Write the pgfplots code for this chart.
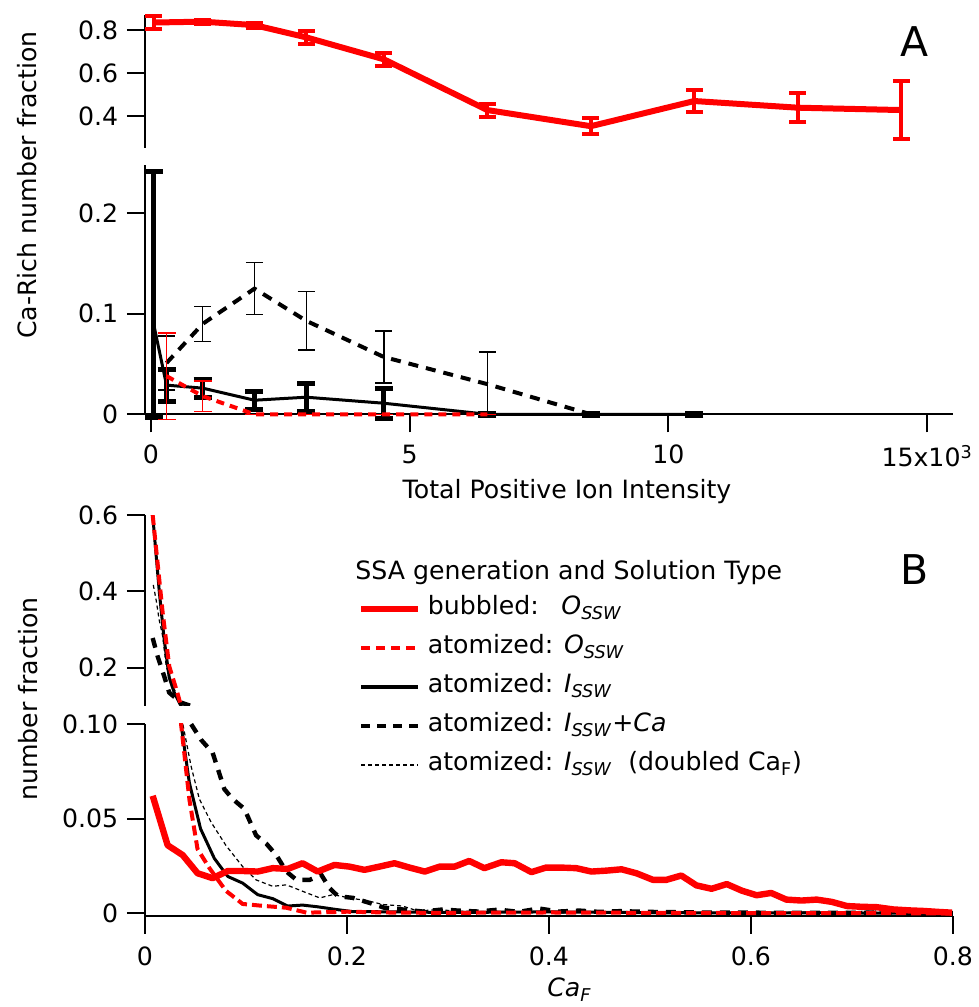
\documentclass[border=0pt]{standalone}
\usepackage{pgfplots}
\pgfplotsset{compat=1.18}
\usepackage{pgfplotstable}
\usepackage{fontspec}
\setmainfont{DejaVu Sans}
\newcommand{\fs}{\fontsize{12.6pt}{15pt}\selectfont}

\pgfplotstableread{
x y e
0.05 0.835 0.030
1 0.839 0.010
2 0.823 0.012
3 0.766 0.031
4.5 0.664 0.030
6.5 0.428 0.030
8.5 0.353 0.037
10.5 0.470 0.049
12.5 0.439 0.067
14.5 0.428 0.134
}\bubbledA

\pgfplotstableread{
x y ep em
0.05 0.090 0.152 0.093
0.3 0.029 0.016 0.016
1 0.026 0.009 0.009
2 0.014 0.009 0.009
3 0.017 0.014 0.014
4.5 0.011 0.015 0.015
6.5 0 0.001 0.001
8.5 0 0.001 0.001
10.5 0 0.001 0.001
}\IsswA

\pgfplotstableread{
x y e
0.3 0.051 0.027
1 0.090 0.0175
2 0.125 0.026
3 0.093 0.029
4.5 0.057 0.026
6.5 0.030 0.032
8.5 0 0
}\IcaA

\pgfplotstableread{
x y ep em
0.3 0.038 0.043 0.043
1 0.018 0.015 0.015
2 0 0 0
3 0 0 0
4.5 0 0 0
6.5 0 0 0
}\OsswA

\pgfplotstableread{
x y
0.0076 0.0621
0.0224 0.0360
0.0373 0.0308
0.0521 0.0212
0.0670 0.0186
0.0819 0.0224
0.0967 0.0224
0.1116 0.0221
0.1265 0.0239
0.1413 0.0235
0.1560 0.0265
0.1710 0.0221
0.1876 0.0256
0.2025 0.0247
0.2173 0.0230
0.2320 0.0247
0.2470 0.0265
0.2620 0.0242
0.2770 0.0221
0.2917 0.0247
0.3065 0.0247
0.3210 0.0277
0.3360 0.0239
0.3528 0.0270
0.3660 0.0265
0.3826 0.0218
0.3970 0.0242
0.4120 0.0242
0.4270 0.0239
0.4420 0.0221
0.4570 0.0226
0.4718 0.0233
0.4866 0.0212
0.5030 0.0177
0.5160 0.0177
0.5310 0.0200
0.5460 0.0148
0.5610 0.0130
0.5760 0.0155
0.5910 0.0120
0.6056 0.0096
0.6200 0.0108
0.6350 0.0073
0.6500 0.0068
0.6650 0.0073
0.6800 0.0061
0.6950 0.0039
0.7096 0.0035
0.7245 0.0033
0.7410 0.0021
0.7570 0.0016
0.7710 0.0013
0.7855 0.0008
0.7990 0.0004
}\bubbledB

\pgfplotstableread{
x y
0.0076 0.600
0.0175 0.344
0.0240 0.204
0.0320 0.135
0.0357 0.100
0.0440 0.060
0.0520 0.034
0.0637 0.024
0.0800 0.012
0.0967 0.005
0.1166 0.004
0.1400 0.003
0.1600 0.0004
0.2000 0.0009
0.2500 0.0004
0.3000 0.0003
0.4000 0.0005
0.5000 0.0003
0.6000 0.0002
0.7000 0.0002
0.8000 0.0000
}\OsswB

\pgfplotstableread{
x y
0.0076 0.600
0.0142 0.398
0.0190 0.274
0.0240 0.174
0.0290 0.135
0.0357 0.100
0.0439 0.069
0.0550 0.0447
0.0687 0.029
0.0820 0.0195
0.0967 0.016
0.1116 0.0099
0.1265 0.0078
0.1413 0.0039
0.1560 0.0044
0.1710 0.0035
0.1890 0.0021
0.2050 0.0010
0.2500 0.0008
0.3000 0.0005
0.4000 0.0008
0.5000 0.0004
0.6000 0.0003
0.7000 0.0002
0.8000 0.0000
}\IsswB

\pgfplotstableread{
x y
0.0076 0.278
0.0125 0.230
0.0190 0.178
0.0240 0.135
0.0357 0.109
0.0456 0.100
0.0555 0.0917
0.0670 0.0848
0.0786 0.0656
0.0868 0.0604
0.0984 0.0552
0.1100 0.0412
0.1200 0.0369
0.1300 0.0308
0.1400 0.0221
0.1500 0.0177
0.1630 0.0177
0.1745 0.0204
0.1827 0.0134
0.1910 0.0091
0.2060 0.0082
0.2220 0.0056
0.2370 0.0030
0.2550 0.0021
0.2750 0.0010
0.2950 0.0021
0.3100 0.0015
0.3300 0.0010
0.3500 0.0020
0.3700 0.0008
0.3900 0.0026
0.4100 0.0010
0.4300 0.0015
0.4500 0.0008
0.4700 0.0012
0.5000 0.0008
0.5500 0.0005
0.6000 0.0004
0.6500 0.0003
0.7000 0.0003
0.7500 0.0006
0.8000 0.0000
}\IcaB

\pgfplotstableread{
x y
0.0082 0.417
0.0110 0.378
0.0140 0.326
0.0175 0.283
0.0210 0.204
0.0273 0.152
0.0340 0.118
0.0373 0.1004
0.0456 0.0778
0.0538 0.0604
0.0654 0.0482
0.0800 0.0360
0.0967 0.0247
0.1100 0.0177
0.1265 0.0143
0.1400 0.0151
0.1560 0.0117
0.1730 0.0082
0.1860 0.0099
0.2025 0.0082
0.2220 0.0065
0.2355 0.0047
0.2550 0.0039
0.2700 0.0013
0.2900 0.0020
0.3100 0.0012
0.3500 0.0010
0.4000 0.0008
0.5000 0.0006
0.6000 0.0005
0.7000 0.0010
0.7500 0.0015
0.7800 0.0020
0.8000 0.0010
}\dblB

\begin{document}
\fs
\begin{tikzpicture}
\useasboundingbox (0pt,0pt) rectangle (489.5pt,503.5pt);
\pgfplotsset{
  every axis/.append style={
    scale only axis, width=404pt, anchor=south west,
    font=\fs,
    axis line style={line width=1pt,-},
    tick style={line width=1pt,black},
    major tick length=9pt,
    xticklabel style={yshift=-2pt},
  },
}
% ---------- Panel A, upper ----------
\begin{axis}[at={(72.5pt,429.65pt)}, height=66.35pt,
  xmin=-0.116, xmax=15.5, ymin=0.253, ymax=0.87,
  axis x line=none, axis y line=left, axis line style={-}, tick align=outside,
  xtick=\empty,
  ytick={0.4,0.6,0.8}, yticklabels={0.4,0.6,0.8},
  clip=false]
\addplot[red, line width=3pt, line join=round,
  error bars/.cd, y dir=both, y explicit,
  error bar style={line width=2pt, red},
  error mark options={rotate=90, line width=2pt, mark size=4.25pt, red}]
  table[x=x, y=y, y error=e]{\bubbledA};
\end{axis}
% ---------- Panel A, lower ----------
\begin{axis}[at={(72.5pt,296.35pt)}, height=124.65pt,
  xmin=-0.116, xmax=15.5, ymin=0, ymax=0.248,
  axis lines=left, axis line style={-}, tick align=outside,
  xtick={0,5,10,15}, xticklabels={0,5,10,15x10\textsuperscript{3}},
  ytick={0,0.1,0.2}, yticklabels={0,0.1,0.2},
  clip=false]
\addplot[black, line width=1.5pt, line join=round,
  error bars/.cd, y dir=both, y explicit,
  error bar style={line width=2.5pt, solid, black},
  error mark options={rotate=90, line width=2.5pt, mark size=4.5pt, solid, black}]
  table[x=x, y=y, y error plus=ep, y error minus=em]{\IsswA};
\addplot[black, line width=2pt, dash pattern=on 5pt off 4pt,
  error bars/.cd, y dir=both, y explicit,
  error bar style={line width=0.7pt, solid, black},
  error mark options={rotate=90, line width=0.7pt, mark size=4.25pt, solid, black}]
  table[x=x, y=y, y error=e]{\IcaA};
\addplot[red, line width=2pt, dash pattern=on 4pt off 3pt,
  error bars/.cd, y dir=both, y explicit,
  error bar style={line width=0.7pt, solid, red},
  error mark options={rotate=90, line width=0.7pt, mark size=4.5pt, solid, red}]
  table[x=x, y=y, y error plus=ep, y error minus=em]{\OsswA};
\end{axis}
% ---------- Panel B, upper ----------
\begin{axis}[at={(72.5pt,150.5pt)}, height=95.5pt,
  xmin=0, xmax=0.8, ymin=0.1, ymax=0.6,
  axis x line=none, axis y line=left, axis line style={-}, tick align=outside,
  xtick=\empty,
  ytick={0.2,0.4,0.6}, yticklabels={0.2,0.4,0.6},
  legend style={at={(0.264,0.571)}, anchor=north west, draw=none, fill=none,
    inner sep=0pt, outer sep=0pt, row sep=7.5pt, column sep=3.5pt,
    nodes={inner sep=0pt, text height=9pt, text depth=3pt, font=\fs}},
  legend cell align=left,
  legend image code/.code={\draw[#1] (0pt,0pt) -- (28.3pt,0pt);},
  ]
\addlegendimage{red, line width=3pt}
\addlegendentry{\rlap{bubbled:}\phantom{atomized:} \textit{O}\textsubscript{\textit{SSW}}}
\addlegendimage{red, line width=2pt, dash pattern=on 4.5pt off 3pt}
\addlegendentry{atomized: \textit{O}\textsubscript{\textit{SSW}}}
\addlegendimage{black, line width=1.6pt}
\addlegendentry{atomized: \textit{I}\textsubscript{\textit{SSW}}}
\addlegendimage{black, line width=2pt, dash pattern=on 4.5pt off 3.5pt}
\addlegendentry{atomized: \textit{I}\textsubscript{\textit{SSW}}\textit{+Ca}}
\addlegendimage{black, line width=0.6pt, dash pattern=on 2pt off 1.5pt}
\addlegendentry{atomized: \textit{I}\textsubscript{\textit{SSW}}\ \ (doubled Ca\textsubscript{F})}
\addplot[forget plot, black, line width=0.6pt, dash pattern=on 2pt off 1.5pt] table[x=x,y=y]{\dblB};
\addplot[forget plot, black, line width=2.2pt, dash pattern=on 5pt off 4pt] table[x=x,y=y]{\IcaB};
\addplot[forget plot, black, line width=1.5pt, line join=round] table[x=x,y=y]{\IsswB};
\addplot[forget plot, red, line width=2pt, dash pattern=on 5pt off 2.5pt] table[x=x,y=y]{\OsswB};
\addplot[forget plot, red, line width=3.2pt, line join=round] table[x=x,y=y]{\bubbledB};
\end{axis}
% ---------- Panel B, lower ----------
\begin{axis}[at={(72.5pt,45.65pt)}, height=95.85pt,
  xmin=0, xmax=0.8, ymin=-0.0012, ymax=0.1,
  axis lines=left, axis line style={-}, tick align=outside,
  xtick={0,0.2,0.4,0.6,0.8}, xticklabels={0,0.2,0.4,0.6,0.8},
  ytick={0,0.05,0.1}, yticklabels={0,0.05,0.10}]
\addplot[black, line width=0.6pt, dash pattern=on 2pt off 1.5pt] table[x=x,y=y]{\dblB};
\addplot[black, line width=2.2pt, dash pattern=on 5pt off 4pt] table[x=x,y=y]{\IcaB};
\addplot[black, line width=1.5pt, line join=round] table[x=x,y=y]{\IsswB};
\addplot[red, line width=2pt, dash pattern=on 5pt off 2.5pt] table[x=x,y=y]{\OsswB};
\addplot[red, line width=3.2pt, line join=round] table[x=x,y=y]{\bubbledB};
\end{axis}
% ---------- labels ----------
\node[rotate=90, anchor=base] at (18.4pt,411pt) {Ca-Rich number fraction};
\node[rotate=90, anchor=base] at (19pt,154pt) {number fraction};
\node[anchor=base] at (283.5pt,254.3pt) {Total Positive Ion Intensity};
\node[anchor=base west, inner sep=0pt] at (273.5pt,5.2pt) {\textit{Ca\textsubscript{F}}};
\node[anchor=base west, inner sep=0pt] at (177.5pt,213.5pt) {SSA generation and Solution Type};
\node[font=\fontsize{20.5pt}{24pt}\selectfont] at (457.5pt,482.5pt) {A};
\node[font=\fontsize{20.5pt}{24pt}\selectfont] at (457.5pt,218.5pt) {B};
\end{tikzpicture}
\end{document}
